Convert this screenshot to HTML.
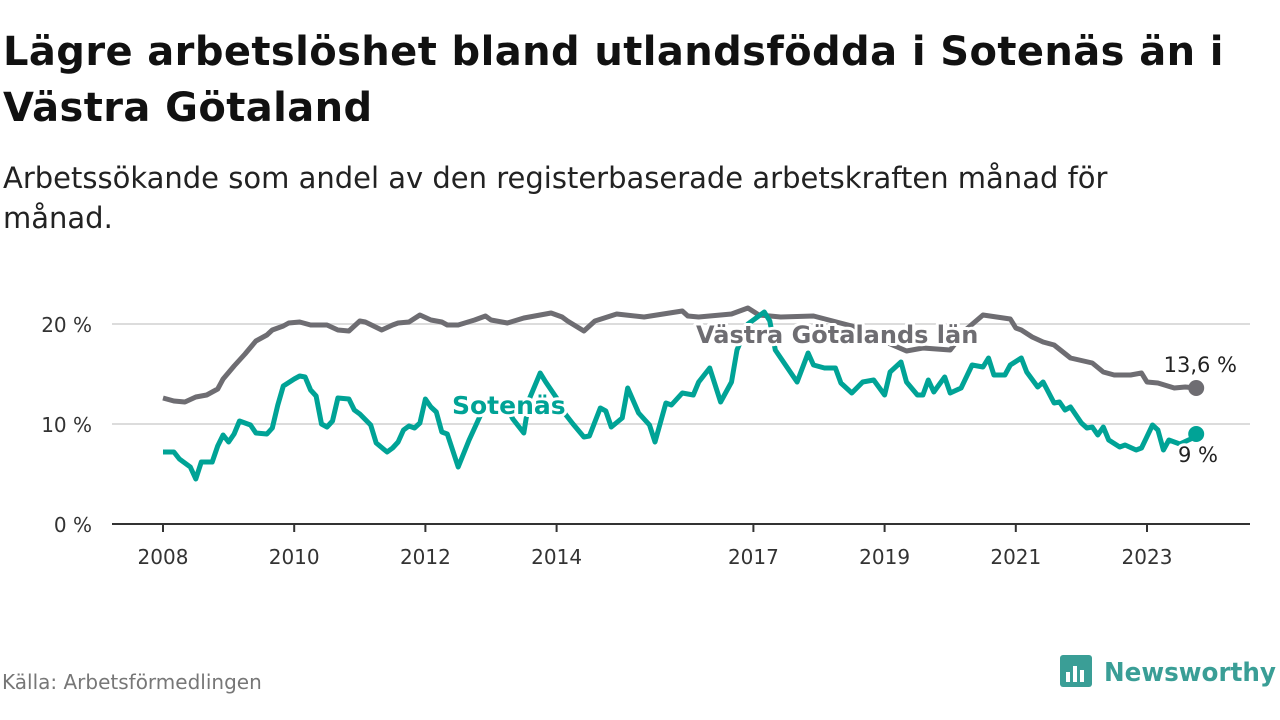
<!DOCTYPE html>
<html><head><meta charset="utf-8"><style>
body{margin:0;width:1280px;height:720px;background:#fff;font-family:"DejaVu Sans","Liberation Sans",sans-serif;overflow:hidden;position:relative}
h1{position:absolute;left:3px;top:24px;margin:0;font-size:40px;line-height:56px;font-weight:bold;color:#111;letter-spacing:0.4px;white-space:nowrap}
.sub{position:absolute;left:3px;top:158px;font-size:29px;line-height:40px;color:#222;white-space:nowrap}
.src{position:absolute;left:2px;top:670px;font-size:20px;color:#777}
svg{position:absolute;left:0;top:0}
</style></head><body>
<h1>Lägre arbetslöshet bland utlandsfödda i Sotenäs än i<br>Västra Götaland</h1>
<div class="sub">Arbetssökande som andel av den registerbaserade arbetskraften månad för<br>månad.</div>
<div class="src">Källa: Arbetsförmedlingen</div>
<svg width="1280" height="720" id="chart" font-family="DejaVu Sans, Liberation Sans, sans-serif">
<g>
<rect x="1060" y="655" width="32" height="32" rx="3" fill="#3a9e96"/>
<rect x="1066" y="672" width="4" height="10" fill="#fff"/><rect x="1073" y="666" width="4" height="16" fill="#fff"/><rect x="1080" y="670" width="4" height="12" fill="#fff"/>
<text x="1104" y="681" font-size="26" font-weight="bold" fill="#3a9e96" textLength="172" lengthAdjust="spacingAndGlyphs">Newsworthy</text>
</g>
</svg>
<script>
const yTicks=[0,10,20];
const xTickYears=[2008,2010,2012,2014,2017,2019,2021,2023];
const vgMonths=[0,2,4,6,8,10,11,13,15,17,19,20,22,23,25,27,30,32,34,36,37,40,42,43,45,47,49,51,52,54,57,59,60,63,66,69,71,73,74,77,79,83,88,95,96,98,104,107,109,113,119,126,131,136,139,144,147,150,155,156,157,159,161,163,166,170,172,174,177,179,180,182,185,187,189];
const vgValues=[12.6,12.3,12.2,12.7,12.9,13.5,14.5,15.8,17.0,18.3,18.9,19.4,19.8,20.1,20.2,19.9,19.9,19.4,19.3,20.3,20.2,19.4,19.9,20.1,20.2,20.9,20.4,20.2,19.9,19.9,20.4,20.8,20.4,20.1,20.6,20.9,21.1,20.7,20.3,19.3,20.3,21.0,20.7,21.3,20.8,20.7,21.0,21.6,20.9,20.7,20.8,19.8,18.5,17.3,17.6,17.4,19.5,20.9,20.5,19.6,19.4,18.7,18.2,17.9,16.6,16.1,15.2,14.9,14.9,15.1,14.2,14.1,13.6,13.7,13.6];
const soMonths=[0,2,3,5,6,7,9,10,11,12,13,14,16,17,19,20,21,22,24,25,26,27,28,29,30,31,32,34,35,36,38,39,41,42,43,44,45,46,47,48,49,50,51,52,54,56,58,60,63,64,66,67,69,70,72,73,75,77,78,80,81,82,84,85,87,89,90,92,93,95,97,98,100,102,104,105,107,110,111,112,116,118,119,121,123,124,126,128,130,132,133,135,136,138,139,140,141,143,144,146,148,150,151,152,154,155,157,158,160,161,163,164,165,166,168,169,170,171,172,173,175,176,178,179,181,182,183,184,185,186,188,189];
const soValues=[7.2,7.2,6.5,5.7,4.5,6.2,6.2,7.8,8.9,8.2,9.0,10.3,9.9,9.1,9.0,9.6,11.9,13.8,14.5,14.8,14.7,13.4,12.8,10.0,9.7,10.3,12.6,12.5,11.4,11.0,9.9,8.1,7.2,7.6,8.2,9.4,9.8,9.6,10.1,12.5,11.7,11.2,9.2,9.0,5.7,8.4,10.8,12.5,11.5,10.5,9.1,12.5,15.1,14.2,12.6,11.4,10.0,8.7,8.8,11.6,11.3,9.7,10.6,13.6,11.1,9.9,8.2,12.1,11.9,13.1,12.9,14.2,15.6,12.2,14.2,17.4,20.0,21.2,20.3,17.4,14.2,17.1,15.9,15.6,15.6,14.1,13.1,14.2,14.4,12.9,15.2,16.2,14.2,12.9,12.9,14.4,13.2,14.7,13.1,13.6,15.9,15.7,16.6,14.9,14.9,15.9,16.6,15.2,13.7,14.2,12.1,12.2,11.4,11.7,10.1,9.6,9.7,8.9,9.7,8.4,7.7,7.9,7.4,7.6,9.9,9.4,7.4,8.4,8.2,8.0,8.5,9.0];

const NS='http://www.w3.org/2000/svg';
const svg=document.getElementById('chart');
const X0=163,PXM=65.6/12,Y0=524,PXV=10;
const xM=m=>X0+m*PXM;
const xY=y=>X0+(y-2008)*65.6;
const yV=v=>Y0-v*PXV;
const root=document.createElementNS(NS,'g');svg.appendChild(root);
function add(t,a,txt){const e=document.createElementNS(NS,t);for(const k in a)e.setAttribute(k,a[k]);if(txt!==undefined)e.textContent=txt;root.appendChild(e);return e;}
yTicks.forEach(v=>{
  if(v>0){const g=add('line',{x1:112,x2:1250,y1:yV(v),y2:yV(v),stroke:'#dcdcdc','stroke-width':2});
  
  }
  const t=add('text',{x:92,y:yV(v)+8,'text-anchor':'end','font-size':20,fill:'#333'},v+' %');
  
  
});
const ax=add('line',{x1:112,x2:1250,y1:Y0,y2:Y0,stroke:'#333','stroke-width':2});


xTickYears.forEach(y=>{
  const l=add('line',{x1:xY(y),x2:xY(y),y1:Y0,y2:Y0+8,stroke:'#333','stroke-width':2});
  
  
  const t=add('text',{x:xY(y),y:564,'text-anchor':'middle','font-size':20,fill:'#333'},String(y));
  
  
});
function series(ms,vs,col,name){
  const d=ms.map((m,i)=>(i?'L':'M')+xM(m).toFixed(1)+','+yV(vs[i]).toFixed(1)).join('');
  const p=add('path',{d:d,fill:'none',stroke:col,'stroke-width':5,'stroke-linejoin':'round'});
  
  
  const c=add('circle',{cx:xM(ms[ms.length-1]),cy:yV(vs[vs.length-1]),r:8,fill:col});
  
  
}
series(vgMonths,vgValues,'#6e6d72','vastra-gotaland');
series(soMonths,soValues,'#00a396','sotenas');
function lbl(x,y,txt,col,sz,bold,name,anchor){
  const t=add('text',{x:x,y:y,'font-size':sz,'font-weight':bold?'bold':'normal',fill:col,stroke:'#fff','stroke-width':6,'paint-order':'stroke','stroke-linejoin':'round','text-anchor':anchor||'start'},txt);
  
  
}
lbl(696,343,'Västra Götalands län','#6e6d72',24,true,'vastra-gotaland-label');
lbl(452,414,'Sotenäs','#00a396',25,true,'sotenas-label');
lbl(1237,372,'13,6 %','#222',21,false,'vastra-gotaland-end-value','end');
lbl(1218,462,'9 %','#222',21,false,'sotenas-end-value','end');
</script>
</body></html>
